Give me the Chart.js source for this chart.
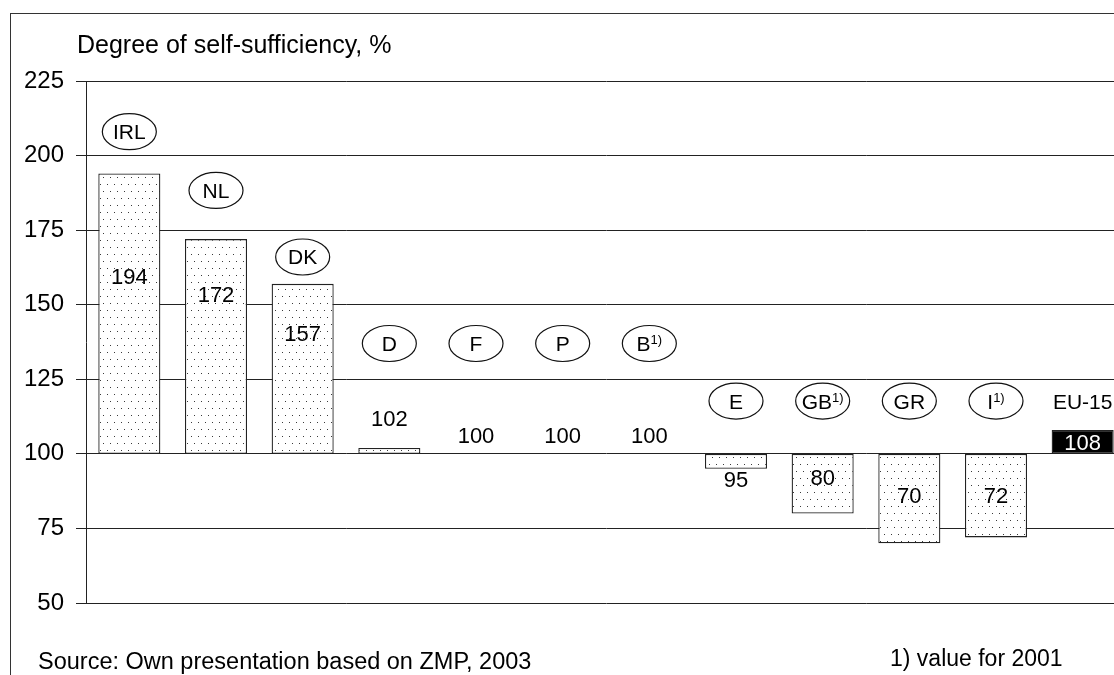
<!DOCTYPE html>
<html>
<head>
<meta charset="utf-8">
<title>Degree of self-sufficiency</title>
<script src="https://cdn.jsdelivr.net/npm/chart.js@4.4.0/dist/chart.umd.min.js"></script>
<style>
	html, body { margin: 0; padding: 0; background: #fff; overflow: hidden; width: 1114px; height: 675px; }
	#frame { position: absolute; left: 10px; top: 13px; width: 1200px; height: 800px; border: 1px solid #333; }
	#wrap { position: absolute; left: 0; top: 0; width: 1140px; height: 675px; }
	.txt { position: absolute; font-family: "Liberation Sans", Arial, sans-serif; color: #000; line-height: 1; white-space: nowrap; }
</style>
</head>
<body>
<div id="frame"></div>
<div id="wrap"><canvas id="chart"></canvas></div>
<div class="txt" style="left:77px; top:32px; font-size:25px;">Degree of self-sufficiency, %</div>
<div class="txt" style="left:38px; top:650px; font-size:23.5px;">Source: Own presentation based on ZMP, 2003</div>
<div class="txt" style="left:890px; top:647px; font-size:23px;">1) value for 2001</div>

<script>
// Chart data
const countries = ['IRL', 'NL', 'DK', 'D', 'F', 'P', 'B', 'E', 'GB', 'GR', 'I', 'EU-15'];
const footnoted = [false, false, false, false, false, false, true, false, true, false, true, false];
const selfSufficiency = [194, 172, 157, 102, 100, 100, 100, 95, 80, 70, 72, 108];
const baseLevel = 100;
const yTicks = [50, 75, 100, 125, 150, 175, 200, 225];

const FONT = '"Liberation Sans", Arial, sans-serif';
const last = countries.length - 1;

// Dotted fill like the original print
function dotPattern(ctx) {
	const tile = document.createElement('canvas');
	tile.width = 7; tile.height = 14;
	const g = tile.getContext('2d');
	g.fillStyle = '#fff';
	g.fillRect(0, 0, 7, 14);
	g.fillStyle = '#3a3a3a';
	g.fillRect(2, 2, 1, 1);
	g.fillRect(5, 9, 1, 1);
	return ctx.createPattern(tile, 'repeat');
}

// Country tags (ovals) and the value numbers
const tagsPlugin = {
	id: 'tags',
	afterDatasetsDraw(chart, args, opts) {
		const { ctx, scales: { x, y } } = chart;
		ctx.save();
		countries.forEach((name, i) => {
			const cx = x.getPixelForValue(i);

			// value number
			ctx.font = '22px ' + FONT;
			ctx.textAlign = 'center';
			ctx.textBaseline = 'alphabetic';
			ctx.fillStyle = i === last ? '#fff' : '#000';
			const ny = y.getPixelForValue(opts.numberAt[i]);
			ctx.fillText(String(selfSufficiency[i]), cx, ny + 8);

			// tag
			const ty = y.getPixelForValue(opts.tagAt[i]);
			ctx.fillStyle = '#000';
			ctx.font = '21px ' + FONT;
			const mainW = ctx.measureText(name).width;
			let supW = 0;
			if (footnoted[i]) {
				ctx.font = '13px ' + FONT;
				supW = ctx.measureText('1)').width;
			}
			const left = cx - (mainW + supW) / 2;
			ctx.textAlign = 'left';
			ctx.font = '21px ' + FONT;
			ctx.fillText(name, left, ty + 7.5);
			if (footnoted[i]) {
				ctx.font = '13px ' + FONT;
				ctx.fillText('1)', left + mainW, ty + 1);
			}
			if (i !== last) {
				ctx.beginPath();
				ctx.ellipse(cx, ty, 27, 18, 0, 0, Math.PI * 2);
				ctx.strokeStyle = '#111';
				ctx.lineWidth = 1.2;
				ctx.stroke();
			}
		});
		ctx.restore();
	}
};

const canvas = document.getElementById('chart');
const dots = dotPattern(canvas.getContext('2d'));

new Chart(canvas, {
	type: 'bar',
	data: {
		labels: countries,
		datasets: [{
			data: selfSufficiency.map(v => [baseLevel, v]),
			backgroundColor: countries.map((c, i) => i === last ? '#000' : dots),
			borderColor: '#222',
			borderWidth: selfSufficiency.map(v => v === baseLevel ? 0 : 1.3),
			borderSkipped: false,
			barPercentage: 0.716,
			categoryPercentage: 1
		}]
	},
	options: {
		responsive: true,
		maintainAspectRatio: false,
		animation: false,
		layout: { padding: { left: 0, top: 81, right: 14, bottom: 72 } },
		plugins: {
			legend: { display: false },
			tooltip: { enabled: false },
			tags: {
				// where tags and numbers sit, in axis units
				tagAt: [208, 188.3, 166, 137, 137, 137, 137, 117.7, 117.7, 117.7, 117.7, 117.7],
				numberAt: [159.6, 153.6, 140.4, 112, 106.3, 106.3, 106.3, 91.6, 92.4, 86.1, 86.1, 104]
			}
		},
		scales: {
			x: { display: false, offset: true },
			y: {
				min: 50,
				max: 225,
				afterBuildTicks: (s) => { s.ticks = yTicks.map(v => ({ value: v })); },
				afterFit: (s) => { s.width = 86; },
				ticks: { font: { family: FONT, size: 24 }, color: '#000', padding: 12 },
				grid: { color: '#222', lineWidth: 1, tickLength: 10 },
				border: { color: '#222' }
			}
		}
	},
	plugins: [tagsPlugin]
});
</script>
</body>
</html>
